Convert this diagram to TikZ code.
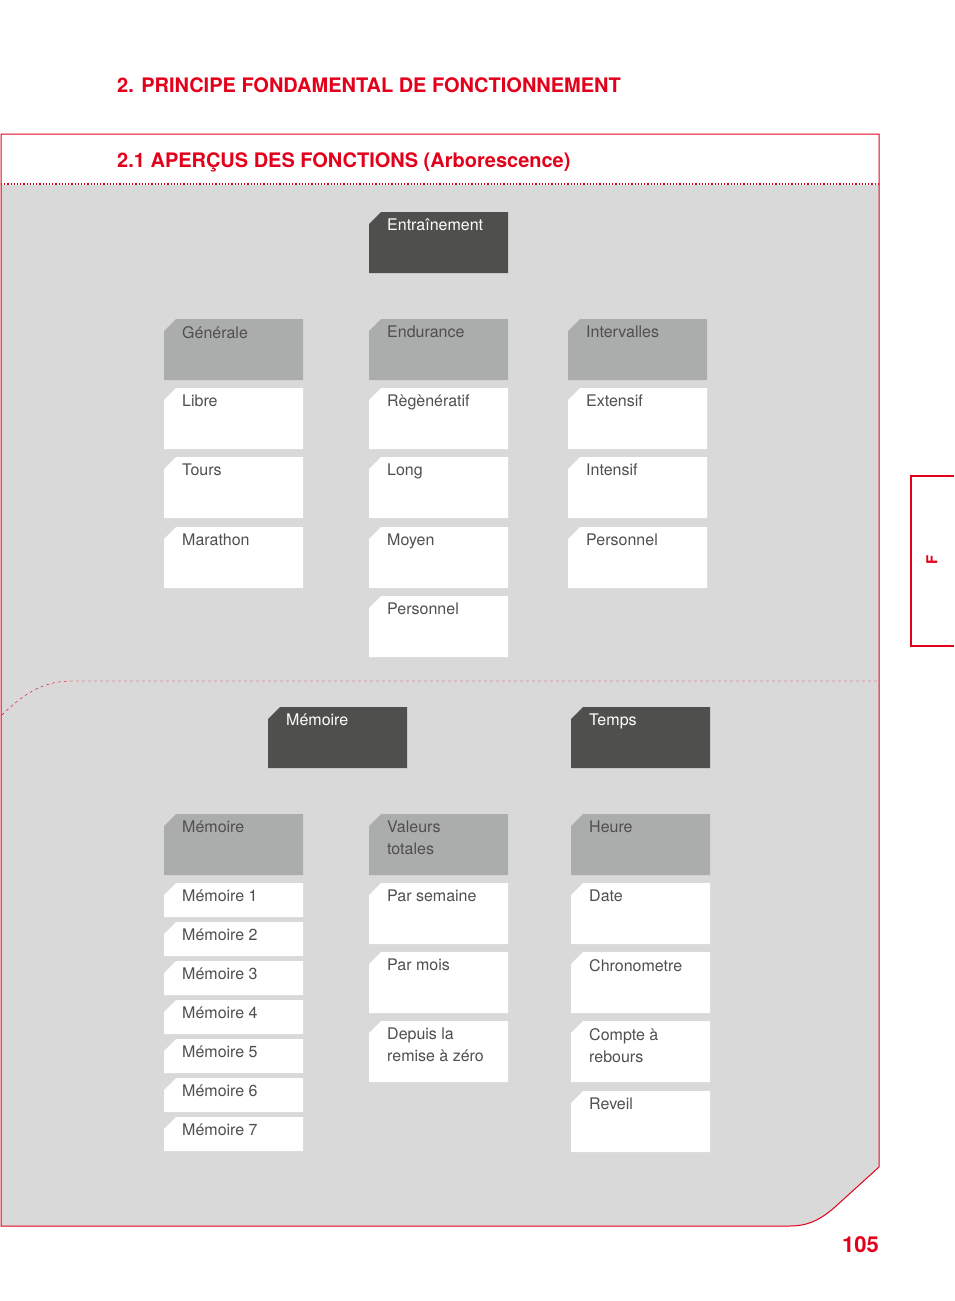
\documentclass[tikz,border=0pt]{standalone}
\usepackage{fontspec}
\setmainfont{TeX Gyre Heros}
\definecolor{red1}{HTML}{E2001A}
\definecolor{dk}{HTML}{4F4F4D}
\definecolor{md}{HTML}{ABADAC}
\definecolor{bg}{HTML}{D9D9D9}
\newcommand\bx[7]{%
  \fill[#5] (#2,#3+12) -- (#2+12,#3) -- (#2+139,#3) -- (#2+139,#3+#4) -- (#2,#3+#4) -- cycle;
  \node[anchor=north west,inner sep=0pt,text=#6,font=\fontsize{16}{22}\selectfont,align=left] (#1) at (#2+18,#3+7) {#7};}
\begin{document}
\begin{tikzpicture}[x=1pt,y=-1pt]
\useasboundingbox (0,0) rectangle (954,1301);
\fill[bg] (1,185) -- (879,185) -- (879,1167) -- (835,1207) .. controls (818,1222) and (805,1226) .. (790,1226) -- (1,1226) -- cycle;
\draw[red1,line width=1pt] (1,134) -- (879,134) -- (879,1167) -- (835,1207) .. controls (818,1222) and (805,1226) .. (790,1226) -- (1,1226) -- cycle;
\draw[red1,line width=1.2pt,dotted] (1,184) -- (879,184);
\draw[red1,dashed,dash pattern=on 3pt off 3pt] (2,715) .. controls (25,692) and (45,681) .. (72,681) -- (879,681);
\node[anchor=base west,inner sep=0pt,text=red1,font=\fontsize{20}{24}\selectfont\bfseries] (t1) at (117,92) {2. PRINCIPE FONDAMENTAL DE FONCTIONNEMENT};
\node[anchor=base west,inner sep=0pt,text=red1,font=\fontsize{20}{24}\selectfont\bfseries] (t2) at (117,167) {2.1 APERÇUS DES FONCTIONS (Arborescence)};
\node[anchor=base east,inner sep=0pt,text=red1,font=\fontsize{22}{24}\selectfont\bfseries] (pg) at (879,1252) {105};
\draw[red1,line width=1.2pt] (954,476) -- (911,476) -- (911,646) -- (954,646);
\node[rotate=90,text=red1,font=\fontsize{15}{18}\selectfont\bfseries] (F) at (932,560) {F};
\bx{a}{369}{212}{61}{dk}{white}{Entraînement}
\bx{b1}{164}{319}{61}{md}{dk}{Générale}
\bx{b2}{164}{388}{61}{white}{dk}{Libre}
\bx{b3}{164}{457}{61}{white}{dk}{Tours}
\bx{b4}{164}{527}{61}{white}{dk}{Marathon}
\bx{c1}{369}{319}{61}{md}{dk}{Endurance}
\bx{c2}{369}{388}{61}{white}{dk}{Règènératif}
\bx{c3}{369}{457}{61}{white}{dk}{Long}
\bx{c4}{369}{527}{61}{white}{dk}{Moyen}
\bx{c5}{369}{596}{61}{white}{dk}{Personnel}
\bx{d1}{568}{319}{61}{md}{dk}{Intervalles}
\bx{d2}{568}{388}{61}{white}{dk}{Extensif}
\bx{d3}{568}{457}{61}{white}{dk}{Intensif}
\bx{d4}{568}{527}{61}{white}{dk}{Personnel}
\bx{m}{268}{707}{61}{dk}{white}{Mémoire}
\bx{t}{571}{707}{61}{dk}{white}{Temps}
\bx{e0}{164}{814}{61}{md}{dk}{Mémoire}
\bx{e1}{164}{883}{34}{white}{dk}{Mémoire 1}
\bx{e2}{164}{922}{34}{white}{dk}{Mémoire 2}
\bx{e3}{164}{961}{34}{white}{dk}{Mémoire 3}
\bx{e4}{164}{1000}{34}{white}{dk}{Mémoire 4}
\bx{e5}{164}{1039}{34}{white}{dk}{Mémoire 5}
\bx{e6}{164}{1078}{34}{white}{dk}{Mémoire 6}
\bx{e7}{164}{1117}{34}{white}{dk}{Mémoire 7}
\bx{f0}{369}{814}{61}{md}{dk}{Valeurs\\totales}
\bx{f1}{369}{883}{61}{white}{dk}{Par semaine}
\bx{f2}{369}{952}{61}{white}{dk}{Par mois}
\bx{f3}{369}{1021}{61}{white}{dk}{Depuis la\\remise à zéro}
\bx{g0}{571}{814}{61}{md}{dk}{Heure}
\bx{g1}{571}{883}{61}{white}{dk}{Date}
\bx{g2}{571}{952}{61}{white}{dk}{Chronometre}
\bx{g3}{571}{1021}{61}{white}{dk}{Compte à\\rebours}
\bx{g4}{571}{1091}{61}{white}{dk}{Reveil}
\end{tikzpicture}
\end{document}
